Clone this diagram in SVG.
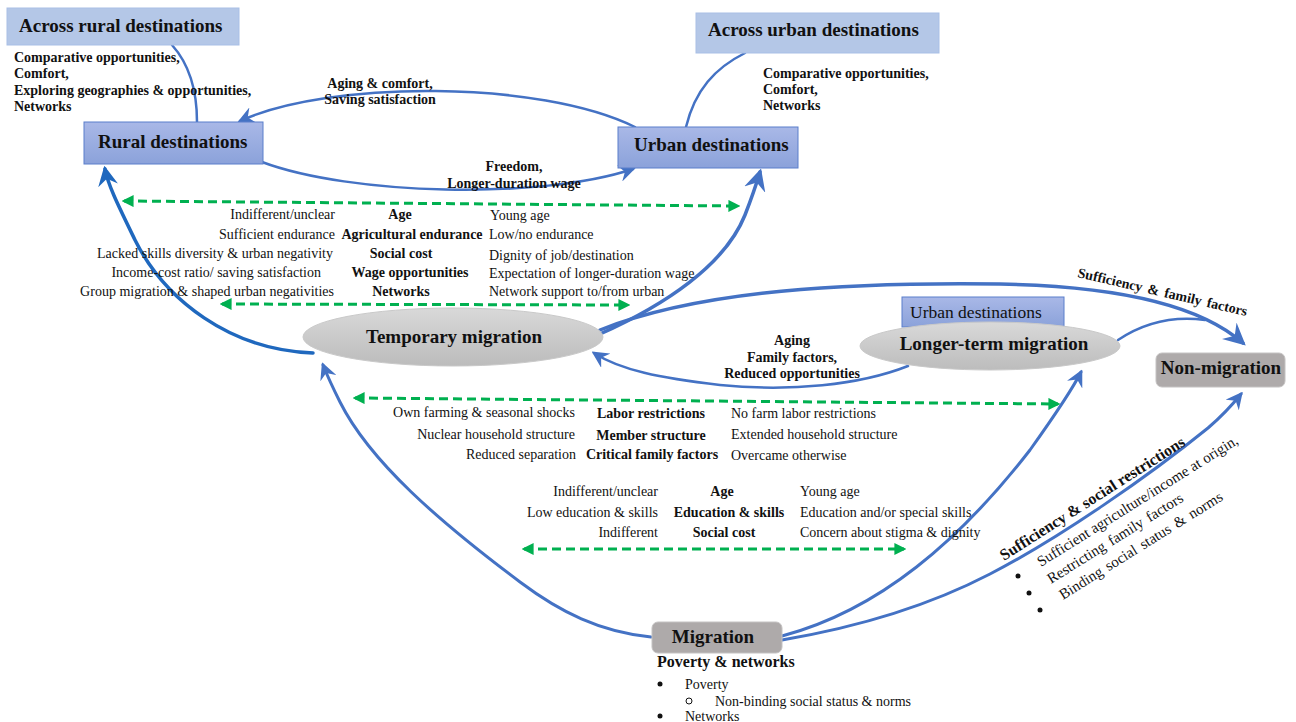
<svg xmlns="http://www.w3.org/2000/svg" width="1296" height="722" viewBox="0 0 1296 722">
<defs>
<style>
text{font-family:"Liberation Serif","Times New Roman",serif;fill:#111;}
.t{font-size:19px;font-weight:bold;}
.b{font-size:14px;font-weight:bold;}
.r{font-size:14px;}
.across{fill:#B4C7E7;stroke:#A9BFE6;stroke-width:1;}
.dest{fill:url(#gBlue);stroke:#5A7ECB;stroke-width:1;}
.ell{fill:url(#gGray);stroke:#C9C9C9;stroke-width:1;}
.gbox{fill:#AEAAAA;stroke:#C4C2C2;stroke-width:1;}
.con{fill:none;stroke:#4472C4;stroke-linecap:round;}
.green{fill:none;stroke:#00B050;stroke-width:3;stroke-dasharray:9 5;marker-start:url(#ga);marker-end:url(#ga);}
</style>
<linearGradient id="gBlue" x1="0" y1="0" x2="0" y2="1"><stop offset="0" stop-color="#A9B8E7"/><stop offset="1" stop-color="#8BA2DA"/></linearGradient>
<linearGradient id="gGray" x1="0" y1="0" x2="0" y2="1"><stop offset="0" stop-color="#D9D9D9"/><stop offset="1" stop-color="#BCBCBC"/></linearGradient>
<marker id="ah" viewBox="0 0 12 12" markerWidth="17" markerHeight="17" refX="10" refY="6" orient="auto" markerUnits="userSpaceOnUse"><path d="M0,0 L12,6 L0,12 L4,6 z" fill="#4472C4"/></marker>
<marker id="ahL" viewBox="0 0 12 12" markerWidth="22" markerHeight="22" refX="10" refY="6" orient="auto" markerUnits="userSpaceOnUse"><path d="M0,0 L12,6 L0,12 L4,6 z" fill="#4472C4"/></marker>
<marker id="ahd" viewBox="0 0 12 12" markerWidth="20" markerHeight="20" refX="10" refY="6" orient="auto" markerUnits="userSpaceOnUse"><path d="M0,0 L12,6 L0,12 L4,6 z" fill="#1F68BE"/></marker>
<marker id="ga" viewBox="0 0 10 10" markerWidth="12" markerHeight="12" refX="8" refY="5" orient="auto-start-reverse" markerUnits="userSpaceOnUse"><path d="M0,0 L10,5 L0,10 z" fill="#00B050"/></marker>
</defs>
<rect width="1296" height="722" fill="#fff"/>

<g id="connectors">
<path class="con" stroke-width="2.5" d="M197,122 C197,90 190,65 172,45"/>
<path class="con" stroke-width="2.5" d="M686,127 C695,90 715,68 745,53"/>
<path class="con" stroke-width="2.5" marker-end="url(#ah)" d="M635,127 C540,80 330,80 240,121"/>
<path class="con" stroke-width="2.5" marker-end="url(#ah)" d="M262,162 C350,195 540,200 633,169"/>
<path class="con" stroke-width="3.5" style="stroke:#1F68BE" marker-end="url(#ahd)" d="M313,353 C230,350 165,300 135,240 C118,205 108,185 105,169"/>
<path class="con" stroke-width="3.5" marker-end="url(#ahL)" d="M600,334 C665,305 725,265 745,215 C752,197 757,182 760,172"/>
<path class="con" stroke-width="3.5" marker-end="url(#ahL)" d="M600,330 C700,290 850,282 1000,284 C1120,286 1200,305 1243,343"/>
<path class="con" stroke-width="2.5" d="M1118,340 C1145,322 1175,316 1205,320"/>
<path class="con" stroke-width="2.5" marker-end="url(#ah)" d="M908,366 C860,385 790,392 720,385 C660,378 620,370 594,353"/>
<path class="con" stroke-width="3" marker-end="url(#ah)" d="M651,637 C600,632 560,612 520,582 C440,522 370,462 340,402 C332,386 327,375 323,365"/>
<path class="con" stroke-width="3" marker-end="url(#ah)" d="M782,636 C880,610 960,540 1030,450 C1055,415 1072,390 1081,372"/>
<path class="con" stroke-width="3" marker-end="url(#ah)" d="M782,640 C870,625 940,600 990,574 C1060,538 1150,475 1208,428 C1222,416 1233,404 1241,394"/>
<path class="green" d="M124,201 L738,206"/>
<path class="green" d="M222,304 L628,305"/>
<path class="green" d="M355,398 L1058,404"/>
<path class="green" d="M524,549 L904,549"/>
</g>

<g id="across-rural"><rect class="across" x="7" y="8" width="232" height="37"/><text class="t" x="19" y="32">Across rural destinations</text></g>
<g id="across-urban"><rect class="across" x="696" y="13" width="243" height="40"/><text class="t" x="708" y="36">Across urban destinations</text></g>
<g id="rural-destinations"><rect class="dest" x="84" y="122" width="179" height="42"/><text class="t" x="98" y="148">Rural destinations</text></g>
<g id="urban-destinations"><rect class="dest" x="618" y="127" width="180" height="41"/><text class="t" x="634" y="151">Urban destinations</text></g>
<g id="temporary-migration"><ellipse class="ell" cx="453" cy="337" rx="150" ry="29"/><text class="t" x="454" y="343" text-anchor="middle">Temporary migration</text></g>
<g id="urban-destinations-2"><rect class="dest" x="902" y="297" width="162" height="30"/><text x="910" y="318" style="font-size:17.5px">Urban destinations</text></g>
<g id="longer-term-migration"><ellipse class="ell" cx="990" cy="346" rx="130" ry="24"/><text class="t" x="994" y="350" text-anchor="middle">Longer-term migration</text></g>
<g id="non-migration"><rect class="gbox" x="1156" y="353" width="129" height="34" rx="6"/><text class="t" x="1221" y="374" text-anchor="middle">Non-migration</text></g>
<g id="migration"><rect class="gbox" x="652" y="622" width="130" height="31" rx="6"/><text class="t" x="713" y="643" text-anchor="middle">Migration</text></g>

<g id="labels">
<text class="b" x="14" y="62">Comparative opportunities,</text>
<text class="b" x="14" y="78">Comfort,</text>
<text class="b" x="14" y="95">Exploring geographies &amp; opportunities,</text>
<text class="b" x="14" y="111">Networks</text>
<text class="b" x="380" y="88" text-anchor="middle">Aging &amp; comfort,</text>
<text class="b" x="380" y="104" text-anchor="middle">Saving satisfaction</text>
<text class="b" x="763" y="78">Comparative opportunities,</text>
<text class="b" x="763" y="94">Comfort,</text>
<text class="b" x="763" y="110">Networks</text>
<text class="b" x="514" y="171" text-anchor="middle">Freedom,</text>
<text class="b" x="514" y="188" text-anchor="middle">Longer-duration wage</text>

<text class="r" x="335" y="219" text-anchor="end">Indifferent/unclear</text>
<text class="r" x="335" y="239" text-anchor="end">Sufficient endurance</text>
<text class="r" x="333" y="258" text-anchor="end">Lacked skills diversity &amp; urban negativity</text>
<text class="r" x="321" y="277" text-anchor="end">Income-cost ratio/ saving satisfaction</text>
<text class="r" x="334" y="296" text-anchor="end">Group migration &amp; shaped urban negativities</text>
<text class="b" x="400" y="219" text-anchor="middle">Age</text>
<text class="b" x="412" y="239" text-anchor="middle">Agricultural endurance</text>
<text class="b" x="401" y="258" text-anchor="middle">Social cost</text>
<text class="b" x="410" y="277" text-anchor="middle">Wage opportunities</text>
<text class="b" x="401" y="296" text-anchor="middle">Networks</text>
<text class="r" x="490" y="220">Young age</text>
<text class="r" x="489" y="239">Low/no endurance</text>
<text class="r" x="489" y="260">Dignity of job/destination</text>
<text class="r" x="489" y="278">Expectation of longer-duration wage</text>
<text class="r" x="489" y="296">Network support to/from urban</text>

<text class="b" x="792" y="345" text-anchor="middle">Aging</text>
<text class="b" x="792" y="362" text-anchor="middle">Family factors,</text>
<text class="b" x="792" y="378" text-anchor="middle">Reduced opportunities</text>

<text class="r" x="575" y="417" text-anchor="end">Own farming &amp; seasonal shocks</text>
<text class="r" x="575" y="439" text-anchor="end">Nuclear household structure</text>
<text class="r" x="576" y="459" text-anchor="end">Reduced separation</text>
<text class="b" x="651" y="418" text-anchor="middle">Labor restrictions</text>
<text class="b" x="651" y="440" text-anchor="middle">Member structure</text>
<text class="b" x="652" y="459" text-anchor="middle">Critical family factors</text>
<text class="r" x="731" y="418">No farm labor restrictions</text>
<text class="r" x="731" y="439">Extended household structure</text>
<text class="r" x="731" y="460">Overcame otherwise</text>

<text class="r" x="658" y="496" text-anchor="end">Indifferent/unclear</text>
<text class="r" x="658" y="517" text-anchor="end">Low education &amp; skills</text>
<text class="r" x="658" y="537" text-anchor="end">Indifferent</text>
<text class="b" x="722" y="496" text-anchor="middle">Age</text>
<text class="b" x="729" y="517" text-anchor="middle">Education &amp; skills</text>
<text class="b" x="724" y="537" text-anchor="middle">Social cost</text>
<text class="r" x="800" y="496">Young age</text>
<text class="r" x="800" y="517">Education and/or special skills</text>
<text class="r" x="800" y="537">Concern about stigma &amp; dignity</text>

<text class="b" transform="translate(1077,277) rotate(13)" style="word-spacing:2px">Sufficiency &amp; family factors</text>

<text transform="translate(1004,561) rotate(-32.5)" style="font-size:16px;font-weight:bold">Sufficiency &amp; social restrictions</text>
<text transform="translate(1041,567) rotate(-32)" style="font-size:15px">Sufficient agriculture/income  at origin,</text>
<text transform="translate(1051,584) rotate(-32)" style="font-size:15px;word-spacing:2px">Restricting family factors</text>
<text transform="translate(1063,600) rotate(-32)" style="font-size:15px;word-spacing:2px">Binding social status &amp; norms</text>
<circle cx="1018" cy="576" r="2.5" fill="#111"/>
<circle cx="1029" cy="593" r="2.5" fill="#111"/>
<circle cx="1040" cy="610" r="2.5" fill="#111"/>

<text x="657" y="667" style="font-size:16px;font-weight:bold">Poverty &amp; networks</text>
<circle cx="660" cy="684" r="2.5" fill="#111"/>
<text class="r" x="685" y="689">Poverty</text>
<circle cx="689" cy="701" r="3" fill="none" stroke="#111" stroke-width="1"/>
<text class="r" x="715" y="706">Non-binding social status &amp; norms</text>
<circle cx="660" cy="716" r="2.5" fill="#111"/>
<text class="r" x="685" y="721">Networks</text>
</g>
</svg>
